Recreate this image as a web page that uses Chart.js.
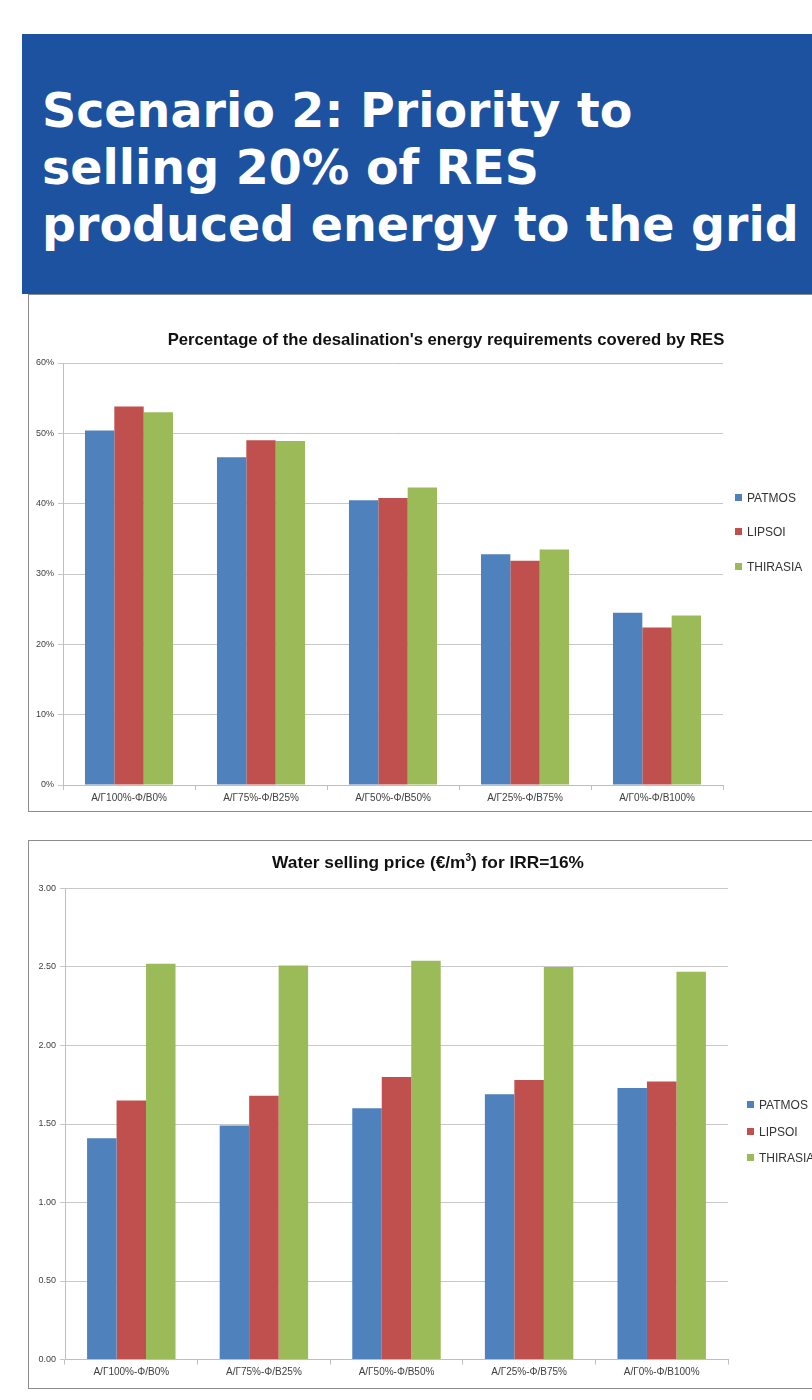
<!DOCTYPE html>
<html>
<head>
<meta charset="utf-8">
<script src="https://cdn.jsdelivr.net/npm/chart.js@4.4.0/dist/chart.umd.min.js"></script>
<style>
  html, body { margin:0; padding:0; background:#fff; width:812px; height:1400px; overflow:hidden; position:relative; }
  #header { position:absolute; left:22px; top:34px; width:790px; height:260px; background:#1c52a0; }
  #headtext { position:absolute; left:42px; top:82px; color:#fff; font-family:"DejaVu Sans"; font-weight:bold; font-size:47.5px; line-height:57px; white-space:nowrap; }
  .frame { position:absolute; left:28px; border:1px solid #8c8c8c; border-right:none; box-sizing:border-box; }
  #f1 { top:294px; width:784px; height:518px; }
  #f2 { top:840px; width:784px; height:549px; }
  canvas { position:absolute; }
  .title { position:absolute; font-family:"Liberation Sans", Arial, sans-serif; font-weight:bold; color:#111; white-space:nowrap; transform:translate(-50%,-50%); }
  .leg { position:absolute; font-family:"Liberation Sans", Arial, sans-serif; font-size:12px; color:#333; white-space:nowrap; transform:translateY(-50%); }
  .leg i { display:inline-block; width:7px; height:7px; margin-right:5px; vertical-align:middle; position:relative; top:-1px; }
</style>
</head>
<body>
<div id="header"></div>
<div id="headtext">Scenario 2: Priority to<br>selling 20% of RES<br>produced energy to the grid</div>
<div class="frame" id="f1"></div>
<div class="frame" id="f2"></div>
<canvas id="c1" width="783" height="515" style="left:29px; top:296px;"></canvas>
<canvas id="c2" width="783" height="546" style="left:29px; top:841px;"></canvas>
<div class="title" style="left:446px; top:340px; font-size:16.7px;">Percentage of the desalination's energy requirements covered by RES</div>
<div class="title" style="left:428px; top:862px; font-size:17.3px;">Water selling price (€/m<sup style="font-size:10px; vertical-align:7px; line-height:0;">3</sup>) for IRR=16%</div>
<div id="leg1"></div>
<div id="leg2"></div>
<script>
const categories = ["Α/Γ100%-Φ/Β0%", "Α/Γ75%-Φ/Β25%", "Α/Γ50%-Φ/Β50%", "Α/Γ25%-Φ/Β75%", "Α/Γ0%-Φ/Β100%"];
const seriesNames = ["PATMOS", "LIPSOI", "THIRASIA"];
const seriesColors = ["#4f81bd", "#c0504d", "#9bbb59"];

// Chart 1: % of desalination energy covered by RES
const resPatmos   = [50.4, 46.6, 40.5, 32.8, 24.5];
const resLipsoi   = [53.8, 49.0, 40.8, 31.9, 22.4];
const resThirasia = [53.0, 48.9, 42.3, 33.5, 24.1];
const resTicks = [0, 10, 20, 30, 40, 50, 60];

// Chart 2: water selling price (€/m3) for IRR=16%
const pricePatmos   = [1.41, 1.49, 1.60, 1.69, 1.73];
const priceLipsoi   = [1.65, 1.68, 1.80, 1.78, 1.77];
const priceThirasia = [2.52, 2.51, 2.54, 2.50, 2.47];
const priceTicks = [0, 0.5, 1, 1.5, 2, 2.5, 3];

function makeChart(id, data, ticks, fmt, opts) {
  const sets = data.map((d, i) => ({
    label: seriesNames[i], data: d, backgroundColor: seriesColors[i],
    borderWidth: 0, categoryPercentage: 0.667, barPercentage: 1.0
  }));
  return new Chart(document.getElementById(id), {
    type: 'bar',
    data: { labels: categories, datasets: sets },
    options: {
      responsive: false, animation: false,
      layout: { padding: { top: opts.top, right: opts.right, left: 0, bottom: 0 } },
      plugins: { legend: { display: false }, tooltip: { enabled: false } },
      scales: {
        x: {
          grid: { drawOnChartArea: false, drawTicks: true, tickLength: 5, color: '#bfbfbf', offset: true },
          border: { color: '#bfbfbf' },
          ticks: { font: { family: 'Liberation Sans', size: 10 }, color: '#404040', padding: 2, maxRotation: 0, autoSkip: false },
          afterFit: s => { s.height = opts.xh; }
        },
        y: {
          min: ticks[0], max: ticks[ticks.length - 1],
          afterBuildTicks: s => { s.ticks = ticks.map(v => ({ value: v })); },
          grid: { color: '#c8c8c8', tickLength: 5 },
          border: { color: '#bfbfbf' },
          ticks: { font: { family: 'Liberation Sans', size: 9 }, color: '#404040', padding: 4, callback: fmt },
          afterFit: s => { s.width = opts.yw; }
        }
      }
    }
  });
}

makeChart('c1', [resPatmos, resLipsoi, resThirasia], resTicks, v => v + '%', { top: 67, right: 89, xh: 26, yw: 34 });
makeChart('c2', [pricePatmos, priceLipsoi, priceThirasia], priceTicks, v => v.toFixed(2), { top: 47.5, right: 84, xh: 27.5, yw: 36 });

function legend(id, x, ys) {
  const el = document.getElementById(id);
  seriesNames.forEach((n, i) => {
    const d = document.createElement('div');
    d.className = 'leg';
    d.style.left = x + 'px';
    d.style.top = ys[i] + 'px';
    d.innerHTML = '<i style="background:' + seriesColors[i] + '"></i>' + n;
    el.appendChild(d);
  });
}
legend('leg1', 735, [498, 532, 567]);
legend('leg2', 747, [1105, 1132, 1158]);
</script>
</body>
</html>
